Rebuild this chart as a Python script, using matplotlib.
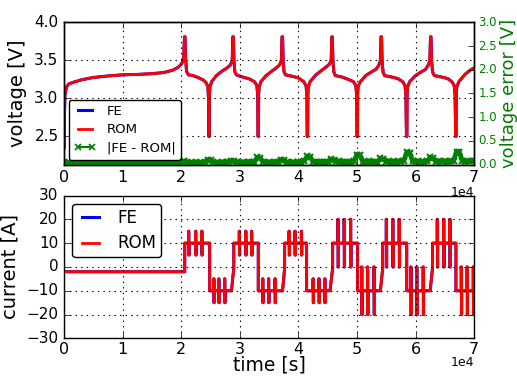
import matplotlib
matplotlib.use('Agg')

import matplotlib.pyplot as plt
from matplotlib.lines import Line2D
import numpy as np

plt.style.use('classic')
plt.rcParams['font.family'] = ['DejaVu Sans']
plt.rcParams['legend.fancybox'] = True
plt.rcParams['axes.formatter.limits'] = [-3, 4]

# voltage (FE / ROM overlap), time in 1e4 s
VOLT_T = [0.000, 0.005, 0.015, 0.04, 0.08, 0.15, 0.3, 0.5, 0.75, 1.0, 1.25, 1.5, 1.7, 1.85, 1.95,
          2.01, 2.04, 2.055, 2.065, 2.075, 2.09, 2.12, 2.2, 2.3, 2.38, 2.43, 2.455, 2.465, 2.47, 2.478,
          2.482, 2.49, 2.52, 2.6, 2.7, 2.78, 2.84, 2.87, 2.88, 2.89, 2.90, 2.915, 2.94, 3.05, 3.15,
          3.25, 3.29, 3.305, 3.31, 3.318, 3.322, 3.33, 3.36, 3.45, 3.55, 3.62, 3.68, 3.71, 3.72, 3.73,
          3.74, 3.755, 3.78, 3.9, 4.0, 4.09, 4.13, 4.145, 4.15, 4.158, 4.162, 4.17, 4.2, 4.3, 4.4,
          4.47, 4.53, 4.56, 4.57, 4.58, 4.59, 4.605, 4.63, 4.75, 4.85, 4.94, 4.98, 4.995, 5.0, 5.008,
          5.012, 5.02, 5.05, 5.15, 5.25, 5.32, 5.37, 5.40, 5.41, 5.42, 5.43, 5.445, 5.47, 5.6, 5.7,
          5.78, 5.82, 5.835, 5.845, 5.853, 5.857, 5.865, 5.9, 6.0, 6.1, 6.17, 6.22, 6.245, 6.255, 6.265,
          6.275, 6.29, 6.32, 6.45, 6.55, 6.62, 6.66, 6.675, 6.685, 6.693, 6.697, 6.705, 6.74, 6.85, 6.95,
          7.0]
VOLT_V = [2.35, 2.75, 3.05, 3.15, 3.19, 3.21, 3.245, 3.275, 3.295, 3.31, 3.315, 3.325, 3.34, 3.37, 3.41,
          3.46, 3.52, 3.81, 3.81, 3.52, 3.36, 3.31, 3.30, 3.27, 3.24, 3.20, 3.15, 3.00, 2.50, 2.50,
          3.05, 3.15, 3.22, 3.30, 3.36, 3.40, 3.44, 3.50, 3.81, 3.81, 3.50, 3.35, 3.31, 3.28, 3.26,
          3.22, 3.17, 3.05, 2.50, 2.50, 3.05, 3.15, 3.22, 3.30, 3.36, 3.40, 3.44, 3.50, 3.81, 3.81,
          3.50, 3.35, 3.31, 3.29, 3.27, 3.22, 3.17, 3.05, 2.50, 2.50, 3.05, 3.15, 3.22, 3.31, 3.37,
          3.41, 3.45, 3.50, 3.81, 3.81, 3.50, 3.35, 3.30, 3.28, 3.25, 3.22, 3.17, 3.05, 2.50, 2.50,
          3.05, 3.15, 3.21, 3.30, 3.35, 3.38, 3.43, 3.50, 3.81, 3.81, 3.50, 3.35, 3.30, 3.28, 3.26,
          3.22, 3.17, 3.05, 2.50, 2.50, 3.05, 3.15, 3.22, 3.30, 3.35, 3.38, 3.44, 3.50, 3.81, 3.81,
          3.50, 3.35, 3.30, 3.28, 3.26, 3.22, 3.17, 3.05, 2.50, 2.50, 3.05, 3.15, 3.22, 3.32, 3.38,
          3.40]

# |FE - ROM| sampled every 0.05e4 s
ERR_V = [0.05, 0.04, 0.04, 0.04, 0.04, 0.04, 0.04, 0.04, 0.04, 0.04,
         0.04, 0.04, 0.04, 0.04, 0.04, 0.04, 0.04, 0.04, 0.04, 0.04,
         0.04, 0.04, 0.04, 0.04, 0.04, 0.04, 0.04, 0.04, 0.04, 0.04,
         0.04, 0.04, 0.04, 0.04, 0.04, 0.04, 0.04, 0.04, 0.04, 0.04,
         0.04, 0.07, 0.05, 0.04, 0.04, 0.05, 0.04, 0.04, 0.05, 0.10,
         0.09, 0.05, 0.04, 0.04, 0.05, 0.04, 0.05, 0.08, 0.07, 0.05,
         0.04, 0.05, 0.04, 0.05, 0.05, 0.06, 0.15, 0.14, 0.05, 0.04,
         0.05, 0.04, 0.05, 0.05, 0.10, 0.09, 0.05, 0.04, 0.05, 0.04,
         0.05, 0.05, 0.08, 0.17, 0.16, 0.06, 0.05, 0.05, 0.06, 0.05,
         0.05, 0.11, 0.10, 0.06, 0.07, 0.05, 0.06, 0.05, 0.06, 0.07,
         0.21, 0.20, 0.06, 0.05, 0.07, 0.06, 0.05, 0.06, 0.13, 0.11,
         0.06, 0.07, 0.05, 0.06, 0.07, 0.06, 0.08, 0.26, 0.25, 0.07,
         0.06, 0.07, 0.05, 0.06, 0.07, 0.15, 0.13, 0.06, 0.07, 0.06,
         0.07, 0.05, 0.07, 0.08, 0.27, 0.26, 0.07, 0.06, 0.07, 0.08,
         0.07]

# current sections: start, end, level, pulse amplitude, pulse times, ramp value at start
CUR_START = [0.0, 2.06, 2.485, 2.897, 3.315, 3.765, 4.14, 4.585, 5.01, 5.44, 5.85, 6.29, 6.69]
CUR_END = [2.06, 2.485, 2.857, 3.315, 3.73, 4.14, 4.54, 5.01, 5.40, 5.85, 6.25, 6.69, 7.0]
CUR_LEVEL = [-2, 10, -10, 10, -10, 10, -10, 10, -10, 10, -10, 10, -10]
CUR_AMP = [0, 5, 5, 5, 5, 5, 5, 10, 10, 10, 10, 10, 10]
CUR_PULSES = [[], [2.125, 2.245, 2.35], [2.555, 2.64, 2.74], [2.99, 3.1, 3.2],
              [3.39, 3.49, 3.6], [3.84, 3.94, 4.05], [4.25, 4.35, 4.45],
              [4.675, 4.78, 4.89], [5.08, 5.18, 5.29], [5.5, 5.61, 5.72],
              [5.92, 6.02, 6.13], [6.37, 6.48, 6.585], [6.78, 6.88, 6.985]]
CUR_RAMP = [None, None, None, -0.5, None, -0.5, None, -0.5, None, -0.5, None, -0.5, None]


def current_profile(dt=0.004):
    ts, vals = [], []
    for t0, t1, lev, amp, pulses, ramp in zip(CUR_START, CUR_END, CUR_LEVEL,
                                               CUR_AMP, CUR_PULSES, CUR_RAMP):
        if ramp is not None:
            ts.append(t0); vals.append(ramp)
        ts.append(t0); vals.append(lev)
        for p in pulses:
            ts += [p, p, p + dt, p + dt, p + 2 * dt, p + 2 * dt]
            vals += [lev, lev + amp, lev + amp, lev - amp, lev - amp, lev]
        ts.append(t1); vals.append(lev)
    return np.array(ts) * 1e4, np.array(vals)


volt_t = np.array(VOLT_T) * 1e4
volt_v = np.array(VOLT_V)
err_t = np.linspace(0, 7e4, len(ERR_V))
cur_t, cur_i = current_profile()

fig = plt.figure(figsize=(5.17, 3.76), dpi=100, facecolor='white')
ax1 = fig.add_axes([0.124, 0.5625, 0.793, 0.378])
ax2 = ax1.twinx()
ax3 = fig.add_axes([0.124, 0.1, 0.793, 0.38])

# top: voltage
h_fe, = ax1.plot(volt_t, volt_v, color='blue', lw=2.2)
h_rom, = ax1.plot(volt_t, volt_v, color='red', lw=2)
ax1.set_xlim(0, 7e4)
ax1.set_ylim(2.13, 4.0)
ax1.set_yticks([2.5, 3.0, 3.5, 4.0])
ax1.set_ylabel('voltage [V]', fontsize=14)
ax1.grid(True, color='black', linestyle=':', linewidth=0.8)
ax1.tick_params(axis='x', labelsize=11.5)
ax1.tick_params(axis='y', labelsize=11)
ax1.xaxis.get_offset_text().set_visible(False)

ax2.plot(err_t, ERR_V, color='green', lw=3.5, marker='x', ms=5, mew=1.5, mec='green')
h_err = Line2D([], [], color='green', lw=1.5, marker='x', ms=5, mew=1.2, mec='green')
ax2.set_xlim(0, 7e4)
ax2.set_ylim(0, 3.0)
ax2.set_yticks(np.arange(0, 3.01, 0.5))
ax2.tick_params(axis='y', labelsize=8.5, labelcolor='green', pad=3)
ax2.set_ylabel('voltage error [V]', fontsize=13, color='green', labelpad=2)
ax2.legend([h_fe, h_rom, h_err], ['FE', 'ROM', '|FE - ROM|'], loc='lower left',
           fontsize=9.5, numpoints=2, handlelength=1.7, borderaxespad=0.35,
           labelspacing=0.4)

# bottom: current
ax3.plot(cur_t, cur_i, color='blue', lw=2.2, label='FE')
ax3.plot(cur_t, cur_i, color='red', lw=2, label='ROM')
ax3.set_xlim(0, 7e4)
ax3.set_ylim(-30, 30)
ax3.set_yticks(np.arange(-30, 31, 10))
ax3.set_xlabel('time [s]', fontsize=13.5, labelpad=-1)
ax3.set_ylabel('current [A]', fontsize=14)
ax3.grid(True, color='black', linestyle=':', linewidth=0.8)
ax3.tick_params(axis='x', labelsize=11.5, pad=2.5)
ax3.tick_params(axis='y', labelsize=11)
ax3.xaxis.get_offset_text().set_visible(False)
ax3.legend(loc='upper left', fontsize=12, handlelength=1.6, labelspacing=0.45,
           borderpad=0.3)

# scale factor of the time axes
fig.text(0.917, 0.506, '1e4', ha='right', va='top', fontsize=9)
fig.text(0.917, 0.054, '1e4', ha='right', va='top', fontsize=9)

fig.savefig('out.png', dpi=100, facecolor='white')
